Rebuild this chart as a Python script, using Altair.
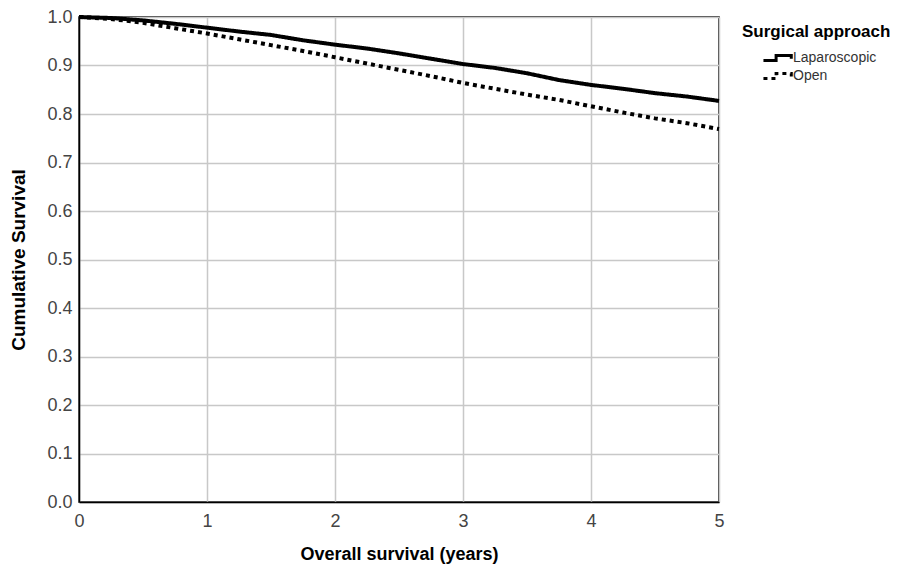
import altair as alt
import pandas as pd

years = [0, 0.25, 0.5, 0.75, 1.0, 1.25, 1.5, 1.75, 2.0, 2.25, 2.5, 2.75,
         3.0, 3.25, 3.5, 3.75, 4.0, 4.25, 4.5, 4.75, 5.0]
lap = [1.0, 0.998, 0.993, 0.986, 0.978, 0.970, 0.963, 0.952, 0.943, 0.935,
       0.925, 0.914, 0.903, 0.895, 0.884, 0.870, 0.860, 0.852, 0.843, 0.836, 0.827]
opn = [1.0, 0.996, 0.988, 0.977, 0.966, 0.954, 0.942, 0.930, 0.917, 0.904,
       0.891, 0.878, 0.864, 0.852, 0.840, 0.829, 0.816, 0.803, 0.791, 0.781, 0.769]
groups = ["Laparoscopic", "Open"]

rows = []
for g, vals in zip(groups, [lap, opn]):
    for t, s in zip(years, vals):
        rows.append({"t": t, "s": s, "g": g})
df = pd.DataFrame(rows)

font = "Liberation Sans"

chart = alt.Chart(df).mark_line(strokeWidth=4, color="black", interpolate="linear").encode(
    x=alt.X("t:Q", scale=alt.Scale(domain=[0, 5], nice=False),
            axis=alt.Axis(title="Overall survival (years)", values=[0, 1, 2, 3, 4, 5],
                          format="d", tickSize=0, labelPadding=10, titlePadding=15,
                          labelFlush=False)),
    y=alt.Y("s:Q", scale=alt.Scale(domain=[0, 1], nice=False),
            axis=alt.Axis(title="Cumulative Survival", values=[i / 10 for i in range(11)],
                          format=".1f", tickSize=0, labelPadding=7, titlePadding=18,
                          labelFlush=False)),
    strokeDash=alt.StrokeDash("g:N", scale=alt.Scale(domain=groups, range=[[1, 0], [4, 4]]),
                              legend=alt.Legend(title="Surgical approach", orient="none",
                                                legendX=663, legendY=7,
                                                symbolType="M-2.3,0.4H-0.3V-0.4H2.1V0.1",
                                                symbolStrokeWidth=3, symbolSize=160,
                                                symbolStrokeColor="black",
                                                symbolOffset=28,
                                                labelFontSize=14, titleFontSize=17,
                                                titleFont=font, labelFont=font,
                                                titleColor="black", labelColor="#333",
                                                rowPadding=0, labelOffset=7,
                                                titlePadding=9)),
    detail="g:N",
).properties(
    width=640, height=485,
    padding={"left": 1, "top": 0, "right": 5, "bottom": 5},
).configure_view(
    stroke="black", strokeWidth=1.5
).configure_axis(
    grid=True, gridColor="#c8c8c8", gridWidth=1.5,
    domainColor="black", domainWidth=1.5,
    labelFont=font, labelFontSize=18, labelColor="#444",
    titleFont=font, titleFontWeight="bold", titleColor="black",
).configure_axisX(
    titleFontSize=18
).configure_axisY(
    titleFontSize=19
)

chart.save("out.html", embed_options={"renderer": "svg", "actions": False})
